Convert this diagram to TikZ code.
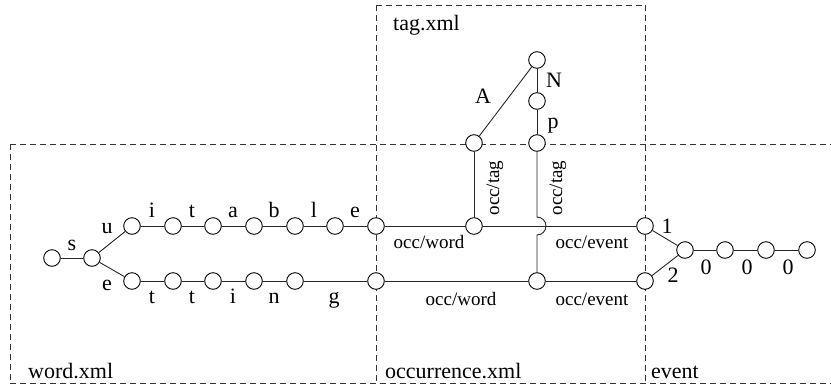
\documentclass[tikz,border=0pt]{standalone}
\usepackage{fontspec}
\setmainfont{Liberation Serif}
\begin{document}
\begin{tikzpicture}[x=1pt,y=-1pt,
  st/.style={circle,draw,fill=white,line width=0.9pt,minimum size=16.6pt,inner sep=0pt},
  lbl/.style={anchor=base,inner sep=0pt,font=\fontsize{22}{26}\selectfont},
  occ/.style={anchor=base,inner sep=0pt,font=\fontsize{19}{23}\selectfont},
  box/.style={anchor=base west,inner sep=0pt,font=\fontsize{22}{26}\selectfont},
  reg/.style={draw=black!80,line width=0.8pt,dash pattern=on 6pt off 4pt},
  ed/.style={draw=black!85,line width=0.9pt}]
\useasboundingbox (0,0) rectangle (831,389);
% region boundaries
\draw[reg] (10,144) -- (831,144);
\draw[reg] (10,383) -- (831,383);
\draw[reg] (10,144) -- (10,383);
\draw[reg] (376,5) -- (376,383);
\draw[reg] (645,5) -- (645,383);
\draw[reg] (376,5) -- (645,5);
% word.xml trie
\node[st] (w0) at (52,258) {};
\node[st] (w1) at (92,258) {};
\node[st] (u1) at (132,226) {};
\node[st] (u2) at (173,226) {};
\node[st] (u3) at (213,226) {};
\node[st] (u4) at (254,226) {};
\node[st] (u5) at (295,226) {};
\node[st] (u6) at (335,226) {};
\node[st] (l1) at (132,281) {};
\node[st] (l2) at (173,281) {};
\node[st] (l3) at (213,281) {};
\node[st] (l4) at (254,281) {};
\node[st] (l5) at (295,281) {};
% occurrence
\node[st] (o1) at (376,226) {};
\node[st] (o2) at (376,281) {};
\node[st] (a1) at (474,226) {};
\node[st] (b1) at (537,281) {};
% tag
\node[st] (ta) at (474,143) {};
\node[st] (tp) at (537,143) {};
\node[st] (tn) at (537,101) {};
\node[st] (tr) at (537,60) {};
% event
\node[st] (e1) at (645,226) {};
\node[st] (e2) at (645,281) {};
\node[st] (m0) at (685,250) {};
\node[st] (z1) at (725,250) {};
\node[st] (z2) at (766,250) {};
\node[st] (z3) at (807,250) {};
\coordinate (hopT) at (537,217);
% edges
\draw[ed] (w0) -- (w1);
\draw[ed] (w1) -- (u1);
\draw[ed] (w1) -- (l1);
\draw[ed] (u1) -- (u2); \draw[ed] (u2) -- (u3); \draw[ed] (u3) -- (u4);
\draw[ed] (u4) -- (u5); \draw[ed] (u5) -- (u6); \draw[ed] (u6) -- (o1);
\draw[ed] (l1) -- (l2); \draw[ed] (l2) -- (l3); \draw[ed] (l3) -- (l4);
\draw[ed] (l4) -- (l5); \draw[ed] (l5) -- (o2);
\draw[ed] (o1) -- (a1); \draw[ed] (a1) -- (e1);
\draw[ed] (o2) -- (b1); \draw[ed] (b1) -- (e2);
\draw[ed] (ta) -- (a1);
\draw[ed] (ta) -- (tr);
\draw[ed] (tr) -- (tn);
\draw[ed] (tn) -- (tp);
\draw[ed] (tp) -- (hopT) arc (-90:90:9) -- (b1);
\draw[ed] (e1) -- (m0);
\draw[ed] (e2) -- (m0);
\draw[ed] (m0) -- (z1); \draw[ed] (z1) -- (z2); \draw[ed] (z2) -- (z3);
% labels
\node[lbl] (ls) at (72,250) {s};
\node[lbl] (lu) at (107,233) {u};
\node[lbl] (le) at (107,290) {e};
\node[lbl] (lu1) at (152,217) {i};
\node[lbl] (lu2) at (192,217) {t};
\node[lbl] (lu3) at (233,217) {a};
\node[lbl] (lu4) at (274,217) {b};
\node[lbl] (lu5) at (314,217) {l};
\node[lbl] (lu6) at (355,217) {e};
\node[lbl] (ll1) at (152,303) {t};
\node[lbl] (ll2) at (192,303) {t};
\node[lbl] (ll3) at (233,303) {i};
\node[lbl] (ll4) at (274,303) {n};
\node[lbl] (ll5) at (334,303) {g};
\node[occ] (ow1) at (429,248) {occ/word};
\node[occ] (ow2) at (461,305) {occ/word};
\node[occ] (oe1) at (592,248) {occ/event};
\node[occ] (oe2) at (592,305) {occ/event};
\node[occ,anchor=center,rotate=90] (ot1) at (495,188) {occ/tag};
\node[occ,anchor=center,rotate=90] (ot2) at (558,188) {occ/tag};
\node[lbl] (lA) at (483,103) {A};
\node[lbl] (lN) at (554,87) {N};
\node[lbl] (lp) at (553,128) {p};
\node[lbl] (l1x) at (667,233) {1};
\node[lbl] (l2x) at (673,282) {2};
\node[lbl] (lz1) at (706,274) {0};
\node[lbl] (lz2) at (747,274) {0};
\node[lbl] (lz3) at (788,274) {0};
\node[box] (bw) at (28,378) {word.xml};
\node[box] (bo) at (385,378) {occurrence.xml};
\node[box] (be) at (651,378) {event};
\node[box] (bt) at (393,30) {tag.xml};
\end{tikzpicture}
\end{document}
